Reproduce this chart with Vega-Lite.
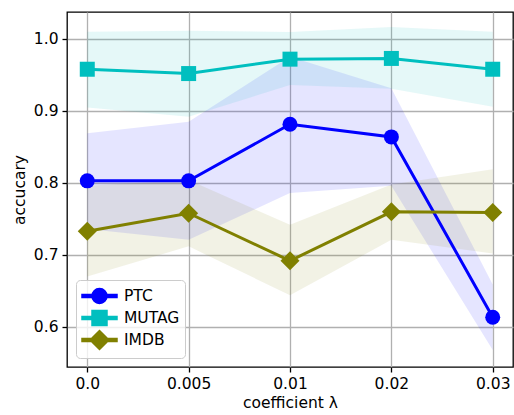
{
  "$schema": "https://vega.github.io/schema/vega-lite/v6.json",
  "autosize": "none",
  "width": 446,
  "height": 355,
  "padding": {"left": 67, "top": 12, "right": 1, "bottom": 48},
  "background": "white",
  "config": {
    "font": "DejaVu Sans",
    "view": {"stroke": "black", "strokeWidth": 1.3},
    "axis": {
      "domain": false,
      "gridColor": "#b0b0b0",
      "gridWidth": 1.3,
      "gridOpacity": 1,
      "tickColor": "black",
      "tickWidth": 1.3,
      "tickSize": 5,
      "labelFont": "DejaVu Sans",
      "labelFontSize": 15.5,
      "labelColor": "black",
      "labelPadding": 4,
      "titleFont": "DejaVu Sans",
      "titleFontSize": 15.5,
      "titleFontWeight": "normal",
      "titleColor": "black"
    },
    "legend": {
      "labelFont": "DejaVu Sans",
      "labelFontSize": 15.5,
      "labelColor": "black"
    }
  },
  "data": {
    "values": [
      {"series": "PTC", "lam": "0.0", "mean": 0.803, "lo": 0.736, "hi": 0.869},
      {"series": "PTC", "lam": "0.005", "mean": 0.803, "lo": 0.721, "hi": 0.885},
      {"series": "PTC", "lam": "0.01", "mean": 0.8815, "lo": 0.786, "hi": 0.9755},
      {"series": "PTC", "lam": "0.02", "mean": 0.864, "lo": 0.796, "hi": 0.9315},
      {"series": "PTC", "lam": "0.03", "mean": 0.6135, "lo": 0.568, "hi": 0.659},
      {"series": "MUTAG", "lam": "0.0", "mean": 0.958, "lo": 0.905, "hi": 1.010},
      {"series": "MUTAG", "lam": "0.005", "mean": 0.952, "lo": 0.892, "hi": 1.0115},
      {"series": "MUTAG", "lam": "0.01", "mean": 0.972, "lo": 0.936, "hi": 1.0097},
      {"series": "MUTAG", "lam": "0.02", "mean": 0.973, "lo": 0.931, "hi": 1.0167},
      {"series": "MUTAG", "lam": "0.03", "mean": 0.958, "lo": 0.906, "hi": 1.010},
      {"series": "IMDB", "lam": "0.0", "mean": 0.733, "lo": 0.670, "hi": 0.796},
      {"series": "IMDB", "lam": "0.005", "mean": 0.758, "lo": 0.712, "hi": 0.804},
      {"series": "IMDB", "lam": "0.01", "mean": 0.692, "lo": 0.644, "hi": 0.742},
      {"series": "IMDB", "lam": "0.02", "mean": 0.760, "lo": 0.721, "hi": 0.798},
      {"series": "IMDB", "lam": "0.03", "mean": 0.759, "lo": 0.702, "hi": 0.819}
    ]
  },
  "encoding": {
    "x": {
      "field": "lam",
      "type": "ordinal",
      "sort": ["0.0", "0.005", "0.01", "0.02", "0.03"],
      "scale": {"type": "point", "padding": 0.2},
      "axis": {"title": "coefficient λ", "labelAngle": 0, "grid": true, "titlePadding": 4}
    },
    "y": {
      "field": "mean",
      "type": "quantitative",
      "scale": {"domain": [0.5444, 1.0375], "nice": false, "zero": false},
      "axis": {"title": "accucary", "values": [0.6, 0.7, 0.8, 0.9, 1.0], "format": ".1f", "grid": true, "titlePadding": 6}
    },
    "color": {
      "field": "series",
      "type": "nominal",
      "sort": ["PTC", "MUTAG", "IMDB"],
      "scale": {"domain": ["PTC", "MUTAG", "IMDB"], "range": ["#0000ff", "#00bfbf", "#808000"]},
      "legend": {
        "title": null,
        "orient": "bottom-left",
        "offset": 9,
        "padding": 5,
        "fillColor": "rgba(255,255,255,0.8)",
        "strokeColor": "#cccccc",
        "cornerRadius": 4,
        "symbolSize": 400,
        "labelOffset": 21,
        "rowPadding": -3,
        "encode": {
          "symbols": {
            "update": {
              "shape": {"signal": "datum.value === 'PTC' ? 'M-1,-0.15L0.45,-0.15L0.45,0.15L-1,0.15Z M1.05,-0.15L2.5,-0.15L2.5,0.15L1.05,0.15Z M0,0A0.75,0.75,0,1,1,1.5,0A0.75,0.75,0,1,1,0,0Z' : datum.value === 'MUTAG' ? 'M-1,-0.15L0.45,-0.15L0.45,0.15L-1,0.15Z M1.05,-0.15L2.5,-0.15L2.5,0.15L1.05,0.15Z M0,-0.75L1.5,-0.75L1.5,0.75L0,0.75Z' : 'M-1,-0.15L0.45,-0.15L0.45,0.15L-1,0.15Z M1.05,-0.15L2.5,-0.15L2.5,0.15L1.05,0.15Z M-0.2,0L0.75,-0.95L1.7,0L0.75,0.95Z'"},
              "fill": {"scale": "color", "field": "value"},
              "stroke": {"value": "transparent"},
              "opacity": {"value": 1},
              "fillOpacity": {"value": 1},
              "size": {"value": 400}
            }
          }
        }
      }
    }
  },
  "layer": [
    {
      "mark": {"type": "area", "opacity": 0.1},
      "encoding": {
        "y": {"field": "lo", "type": "quantitative"},
        "y2": {"field": "hi"}
      }
    },
    {
      "mark": {"type": "line", "strokeWidth": 3},
      "encoding": {}
    },
    {
      "transform": [{"filter": "datum.series === 'PTC'"}],
      "mark": {"type": "point", "filled": true, "opacity": 1, "shape": "circle", "size": 225},
      "encoding": {}
    },
    {
      "transform": [{"filter": "datum.series === 'MUTAG'"}],
      "mark": {"type": "point", "filled": true, "opacity": 1, "shape": "square", "size": 225},
      "encoding": {}
    },
    {
      "transform": [{"filter": "datum.series === 'IMDB'"}],
      "mark": {"type": "point", "filled": true, "opacity": 1, "shape": "diamond", "size": 361},
      "encoding": {}
    }
  ]
}
